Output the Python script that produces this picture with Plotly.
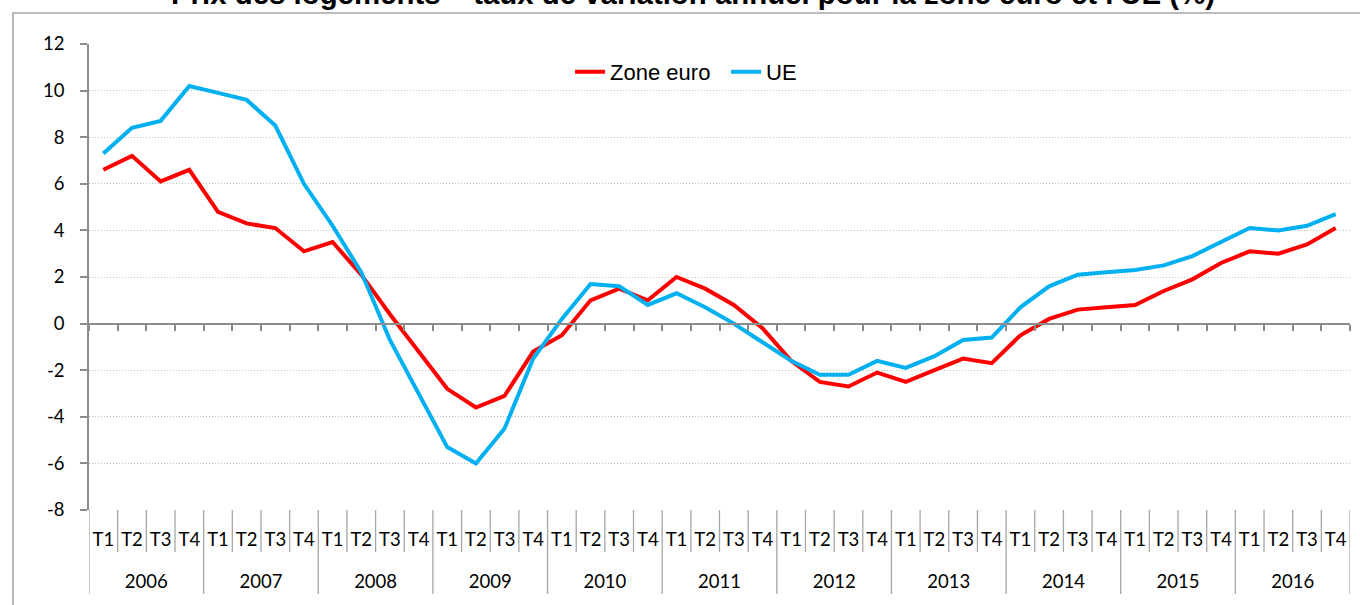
import plotly.graph_objects as go

years = ["2006", "2007", "2008", "2009", "2010", "2011", "2012", "2013", "2014", "2015", "2016"]
quarters = ["T1", "T2", "T3", "T4"]

zone_euro = [6.6, 7.2, 6.1, 6.6,
             4.8, 4.3, 4.1, 3.1,
             3.5, 2.1, 0.4, -1.2,
             -2.8, -3.6, -3.1, -1.2,
             -0.5, 1.0, 1.5, 1.0,
             2.0, 1.5, 0.8, -0.2,
             -1.6, -2.5, -2.7, -2.1,
             -2.5, -2.0, -1.5, -1.7,
             -0.5, 0.2, 0.6, 0.7,
             0.8, 1.4, 1.9, 2.6,
             3.1, 3.0, 3.4, 4.1]

ue = [7.3, 8.4, 8.7, 10.2,
      9.9, 9.6, 8.5, 6.0,
      4.2, 2.2, -0.7, -3.0,
      -5.3, -6.0, -4.5, -1.5,
      0.2, 1.7, 1.6, 0.8,
      1.3, 0.7, 0.0, -0.8,
      -1.6, -2.2, -2.2, -1.6,
      -1.9, -1.4, -0.7, -0.6,
      0.7, 1.6, 2.1, 2.2,
      2.3, 2.5, 2.9, 3.5,
      4.1, 4.0, 4.2, 4.7]

y_ticks = [-8, -6, -4, -2, 0, 2, 4, 6, 8, 10, 12]
y_tick_labels = ["-8", "-6", "-4", "-2", "0", "2", "4", "6", "8", "10", "12"]

title_text = "Prix des logements – taux de variation annuel pour la zone euro et l'UE (%)"

nq = len(quarters)
n = len(years) * nq
idx = list(range(n))
quarter_labels = [q for y in years for q in quarters]
year_pos = [i * nq + (nq - 1) / 2 for i in range(len(years))]

RED = "#FF0000"
BLUE = "#00B0F0"
AXIS = "#8c8c8c"
GRID = "#c0c0c0"
LBL_FONT = dict(family="Lato", size=18.5, color="#000000")

fig = go.Figure()
fig.add_trace(go.Scatter(x=idx, y=zone_euro, name="Zone euro", mode="lines",
                         line=dict(color=RED, width=4)))
fig.add_trace(go.Scatter(x=idx, y=ue, name="UE", mode="lines",
                         line=dict(color=BLUE, width=4)))

# category boundary dividers below the plot
shapes = []
for b in range(n + 1):
    is_year = (b % nq == 0)
    shapes.append(dict(type="line", xref="x", yref="paper",
                       x0=b - 0.5, x1=b - 0.5, y0=0,
                       y1=-0.18 if is_year else -0.09,
                       line=dict(color="#a6a6a6", width=1.3)))
# outer chart frame
shapes.append(dict(type="rect", xref="paper", yref="paper",
                   x0=-0.0603, x1=1.2, y0=-0.5, y1=1.0665,
                   line=dict(color="#a6a6a6", width=1.5), fillcolor="rgba(0,0,0,0)"))

fig.update_layout(
    width=1360, height=605,
    margin=dict(l=89, r=10, t=44, b=95),
    paper_bgcolor="white", plot_bgcolor="white",
    showlegend=True,
    legend=dict(orientation="h", x=0.3815, y=0.94, xanchor="left", yanchor="middle",
                font=dict(family="Liberation Sans", size=22, color="#000000"),
                entrywidth=111, bgcolor="rgba(0,0,0,0)", itemwidth=30),
    xaxis=dict(range=[-0.5, n - 0.5], anchor="free", position=0.4,
               showline=True, linecolor=AXIS, linewidth=2,
               ticks="outside", tickvals=[b - 0.5 for b in range(n + 1)],
               ticklen=6, tickcolor=AXIS, tickwidth=1.5,
               showticklabels=False, showgrid=False, zeroline=False),
    xaxis2=dict(range=[-0.5, n - 0.5], overlaying="x", anchor="y", side="bottom",
                tickmode="array", tickvals=idx, ticktext=quarter_labels,
                ticks="", showline=False, showgrid=False, zeroline=False,
                tickfont=LBL_FONT, ticklabelstandoff=16),
    xaxis3=dict(range=[-0.5, n - 0.5], overlaying="x", anchor="y", side="bottom",
                tickmode="array", tickvals=year_pos, ticktext=years,
                ticks="", showline=False, showgrid=False, zeroline=False,
                tickfont=LBL_FONT, ticklabelstandoff=58),
    yaxis=dict(range=[-8, 12], tickmode="array", tickvals=y_ticks, ticktext=y_tick_labels,
               anchor="x",
               showgrid=True, gridcolor=GRID, griddash="1px,2px", gridwidth=1,
               showline=True, linecolor=AXIS, linewidth=1.5,
               ticks="outside", ticklen=7, tickcolor=AXIS, tickwidth=1.5,
               tickfont=LBL_FONT, ticklabelstandoff=12, zeroline=False),
    shapes=shapes,
    annotations=[dict(text="<b>" + title_text + "</b>", xref="paper", yref="paper",
                      x=0.479, y=1.0687, xanchor="center", yanchor="bottom",
                      showarrow=False,
                      font=dict(family="Liberation Sans", size=29.4, color="#000000"))],
)

# invisible traces to activate the label axes
fig.add_trace(go.Scatter(x=[0], y=[None], xaxis="x2", showlegend=False, hoverinfo="skip"))
fig.add_trace(go.Scatter(x=[0], y=[None], xaxis="x3", showlegend=False, hoverinfo="skip"))

fig.write_html("out.html", config={"displayModeBar": False},
               post_script="document.body.style.margin='0';")
